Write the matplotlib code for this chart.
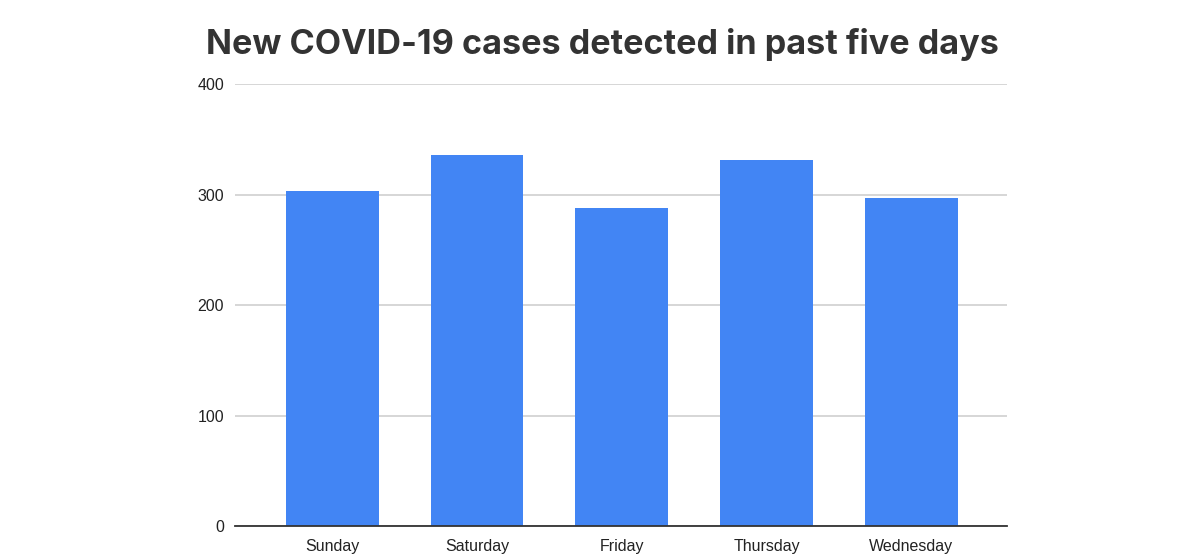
import matplotlib
matplotlib.use('Agg')
import matplotlib.pyplot as plt

days = ['Sunday', 'Saturday', 'Friday', 'Thursday', 'Wednesday']
cases = [303, 336, 288, 331, 297]
y_ticks = [0, 100, 200, 300, 400]


def main():
    fig = plt.figure(figsize=(12, 5.6), dpi=100)
    ax = fig.add_axes([0.196, 0.0607, 0.643, 0.789])

    x = range(len(days))
    ax.bar(x, cases, width=0.64, color='#4285F4', zorder=3)

    ax.set_xlim(-0.67, 4.66)
    ax.set_ylim(0, 400)
    ax.set_yticks(y_ticks)
    ax.set_xticks(list(x))
    ax.set_xticklabels(days)

    ax.grid(axis='y', color='#d0d0d0', linewidth=1.2, zorder=0)
    for s in ['top', 'right', 'left']:
        ax.spines[s].set_visible(False)
    ax.spines['bottom'].set_color('#333333')
    ax.spines['bottom'].set_linewidth(1.3)
    ax.spines['bottom'].set_zorder(4)

    ax.tick_params(axis='both', length=0, labelsize=11.5, labelcolor='#222222')
    ax.tick_params(axis='y', pad=8)
    ax.tick_params(axis='x', pad=9)
    for lab in ax.get_xticklabels() + ax.get_yticklabels():
        lab.set_family('Liberation Sans')

    fig.text(0.502, 0.921, 'New COVID-19 cases detected in past five days',
             ha='center', va='center', fontsize=24.6, fontweight='bold',
             color='#333333', family='Inter')

    fig.savefig('out.png', dpi=100)


if __name__ == '__main__':
    main()
